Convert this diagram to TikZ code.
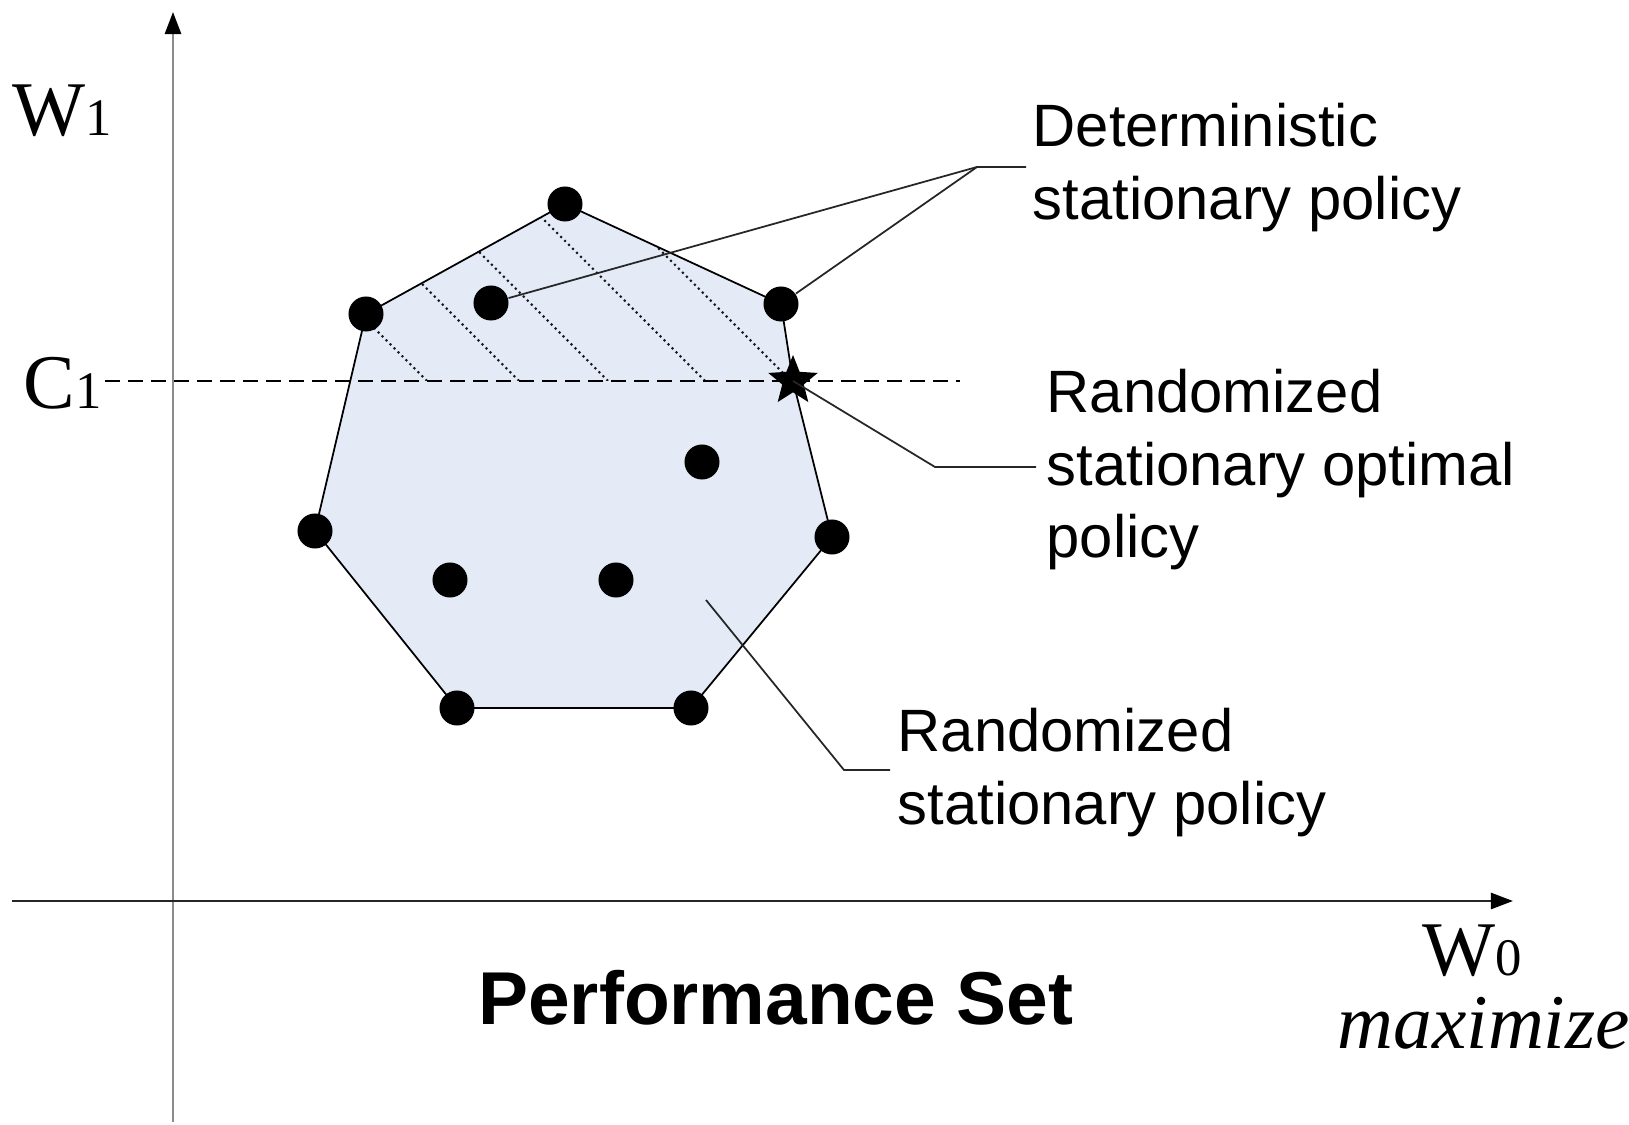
\documentclass[tikz,border=0pt]{standalone}
\usepackage{fontspec}
\setmainfont{Liberation Serif}
\setsansfont{Liberation Sans}
\usetikzlibrary{arrows.meta,shapes.geometric}
\definecolor{setfill}{RGB}{228,235,247}
\definecolor{axisgray}{RGB}{140,140,140}
\begin{document}
\begin{tikzpicture}[x=0.01cm,y=-0.01cm,
  axtip/.style={-{Triangle[black,length=0.22cm,width=0.16cm]}},
  dot/.style={circle,fill=black,inner sep=0pt,minimum size=0.35cm},
  leader/.style={draw=black!85,line width=0.5pt},
  hatch/.style={line width=0.6pt,densely dotted,black!90},
  lbl/.style={inner sep=0pt,anchor=base west,font=\sffamily\fontsize{17}{20.6}\selectfont},
  sym/.style={inner sep=0pt,anchor=base west,font=\fontsize{22}{22}\selectfont}]
\useasboundingbox (0,0) rectangle (1629,1125);
% axes
\coordinate (yb) at (173,1122); \coordinate (yt) at (173,12);
\coordinate (xl) at (12,901); \coordinate (xr) at (1513,901);
\draw[axisgray,line width=0.8pt,axtip] (yb) -- (yt);
\draw[black!85,line width=0.7pt,axtip] (xl) -- (xr);
% performance set
\foreach \n/\x/\y in {v1/565/204,v2/781/304,v3/832/537,v4/691/708,v5/457/708,v6/315/531,v7/366/314}
  {\coordinate (\n) at (\x,\y);}
\coordinate (opt) at (793,381);
\fill[setfill] (v1) -- (v2) -- (opt) -- (v3) -- (v4) -- (v5) -- (v6) -- (v7) -- cycle;
\begin{scope}
  \clip (v1) -- (v2) -- (opt) -- (v3) -- (v4) -- (v5) -- (v6) -- (v7) -- cycle;
  \clip (0,0) rectangle (1629,381);
  \foreach \b in {427,519,608,705,791}
    {\draw[hatch] (\b,381) -- ++(-320,-320);}
\end{scope}
\draw[line width=0.5pt] (v1) -- (v2) -- (opt) -- (v3) -- (v4) -- (v5) -- (v6) -- (v7) -- cycle;
% constraint level
\coordinate (c1a) at (105,381); \coordinate (c1b) at (960,381);
\draw[line width=0.5pt,dash pattern=on 0.15cm off 0.08cm] (c1a) -- (c1b);
\foreach \n in {v1,v2,v3,v4,v5,v6,v7} {\node[dot] (p\n) at (\n) {};}
\foreach \n/\x/\y in {d1/491/303,d2/702/462,d3/450/580,d4/616/580} {\node[dot] (\n) at (\x,\y) {};}
\node[star,star points=5,star point ratio=2.3,fill=black,inner sep=0pt,minimum size=0.52cm] (optstar) at (opt) {};
% leaders
\coordinate (k1) at (977,167); \coordinate (e1) at (1026,167);
\coordinate (k2) at (935,467); \coordinate (e2) at (1036,467);
\coordinate (s3) at (706,600); \coordinate (k3) at (844,770); \coordinate (e3) at (890,770);
\draw[leader] (d1) -- (k1) -- (e1);
\draw[leader] (pv2) -- (k1);
\draw[leader] (optstar.center) -- (k2) -- (e2);
\draw[leader] (s3) -- (k3) -- (e3);
\node[lbl] (detlbl) at (1032,147) {\begin{tabular}[t]{@{}l@{}}Deterministic\\stationary policy\end{tabular}};
\node[lbl] (optlbl) at (1046,413) {\begin{tabular}[t]{@{}l@{}}Randomized\\stationary optimal\\policy\end{tabular}};
\node[lbl] (randlbl) at (897,752) {\begin{tabular}[t]{@{}l@{}}Randomized\\stationary policy\end{tabular}};
% axis labels
\node[sym] (w1) at (12,136) {W{\fontsize{15}{15}\selectfont 1}};
\node[sym] (c1) at (23,409) {C{\fontsize{15}{15}\selectfont 1}};
\node[sym,text depth=0pt] (w0) at (1422,976) {W{\fontsize{15}{15}\selectfont 0}};
\node[sym,text height=0.38cm,font=\itshape\fontsize{22}{22}\selectfont] (maxlbl) at (1337,1049) {maximize};
\node[inner sep=0pt,anchor=base,font=\sffamily\bfseries\fontsize{21.3}{24}\selectfont] (title) at (776,1025) {Performance Set};
\end{tikzpicture}
\end{document}
